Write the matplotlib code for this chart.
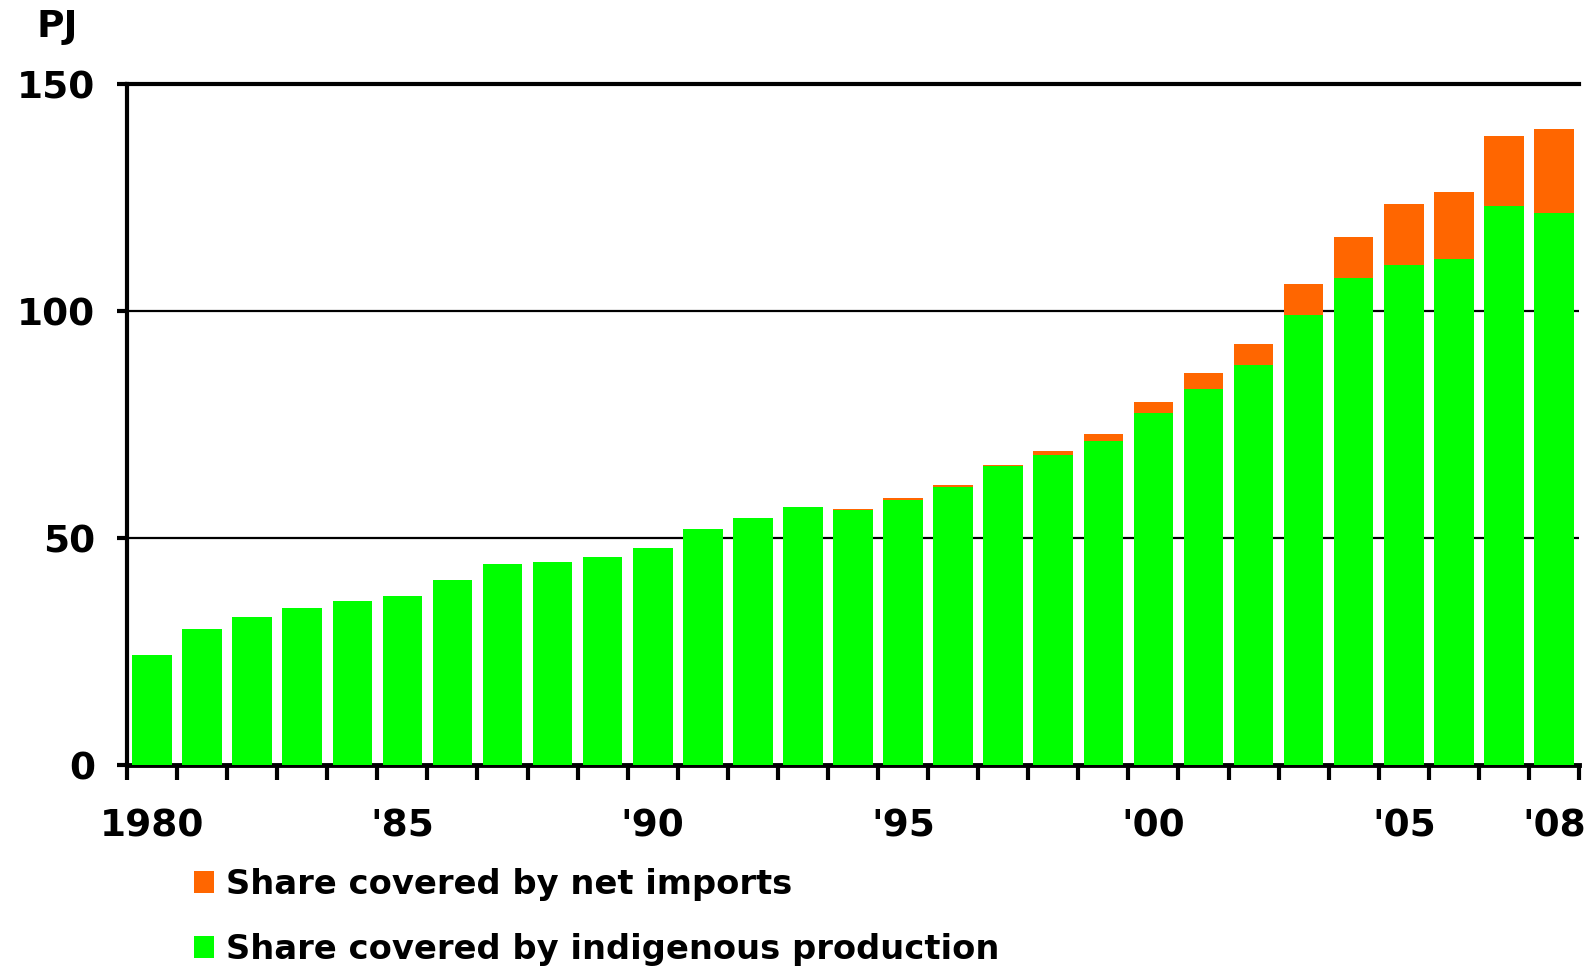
import matplotlib
matplotlib.use("Agg")
import matplotlib.pyplot as plt
from matplotlib.patches import Patch
import numpy as np

years = list(range(1980, 2009))
indigenous = [24.2, 29.9, 32.6, 34.5, 36.1, 37.2, 40.7, 44.3, 44.7, 45.8,
              47.8, 52.0, 54.4, 56.8, 56.2, 58.4, 61.2, 65.8, 68.4, 71.4,
              77.5, 82.9, 88.1, 99.1, 107.3, 110.2, 111.5, 123.2, 121.6]
net_imports = [0, 0, 0, 0, 0, 0, 0, 0, 0, 0,
               0, 0, 0, 0, 0.2, 0.4, 0.5, 0.4, 0.8, 1.6,
               2.5, 3.5, 4.6, 6.9, 9.0, 13.4, 14.7, 15.4, 18.5]
tick_labels = {1980: "1980", 1985: "'85", 1990: "'90", 1995: "'95",
               2000: "'00", 2005: "'05", 2008: "'08"}
yticks = [0, 50, 100, 150]
legend_labels = ["Share covered by net imports", "Share covered by indigenous production"]

GREEN = "#00FF00"
ORANGE = "#FF6600"
plt.rcParams['font.family'] = ['DejaVu Sans']
plt.rcParams['font.weight'] = 'bold'

fig = plt.figure(figsize=(15.94, 9.71), dpi=100)
ax = fig.add_axes([127/1594, 206/971, (1579-127)/1594, (886.7-206)/971])

x = np.arange(len(years))
ax.bar(x, indigenous, width=0.79, color=GREEN, zorder=3)
ax.bar(x, net_imports, width=0.79, bottom=indigenous, color=ORANGE, zorder=3)

ax.set_xlim(-0.5, len(years) - 0.5)
ax.set_ylim(0, 150)

for g in [50, 100]:
    ax.axhline(g, color="black", lw=1.6, zorder=1)

ax.spines["right"].set_visible(False)
ax.spines["top"].set_linewidth(3)
ax.spines["left"].set_linewidth(3)
ax.spines["bottom"].set_linewidth(3.5)

ax.set_yticks(yticks)
ax.set_yticklabels([str(v) for v in yticks], fontsize=27, fontweight='bold')
ax.tick_params(axis='y', length=7, width=3, pad=16)

major_pos = [years.index(y) for y in tick_labels]
ax.set_xticks(major_pos)
ax.set_xticklabels([tick_labels[y] for y in tick_labels], fontsize=27, fontweight='bold')
ax.tick_params(axis='x', which='major', length=0, pad=31)
ax.set_xticks(np.arange(-0.5, len(years), 1.0), minor=True)
ax.tick_params(axis='x', which='minor', length=11, width=3, direction='out')

fig.text(37/1594, 1 - 27/971, "PJ", fontsize=27, fontweight='bold', va='center', ha='left')

handles = [Patch(facecolor=ORANGE), Patch(facecolor=GREEN)]
leg = fig.legend(handles, legend_labels, loc='upper left',
                 bbox_to_anchor=(194/1594, 1 - 868/971), frameon=False,
                 prop={'size': 24.3, 'weight': 'bold'}, handlelength=0.6, handleheight=0.6,
                 handletextpad=0.35, labelspacing=0.95, borderaxespad=0, borderpad=0)

fig.savefig("out.png", dpi=100)
